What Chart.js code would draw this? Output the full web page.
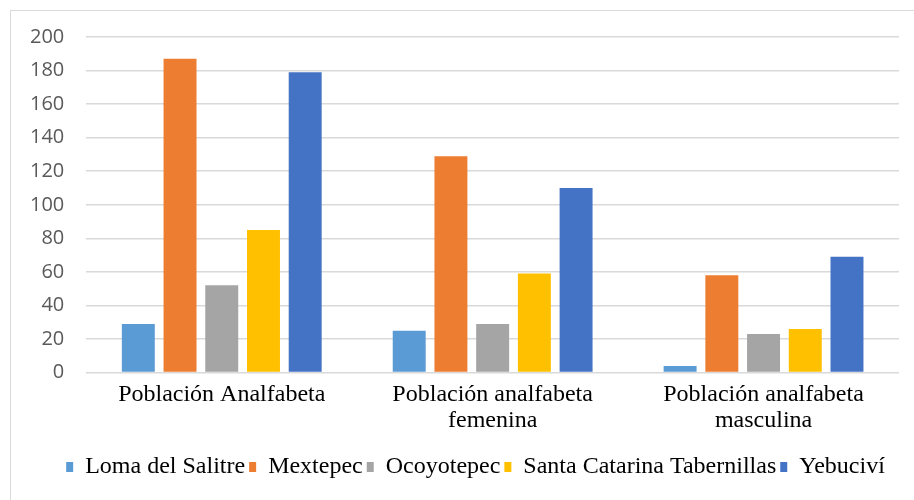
<!DOCTYPE html>
<html>
<head>
<meta charset="utf-8">
<script src="https://cdn.jsdelivr.net/npm/chart.js@4.4.0/dist/chart.umd.min.js"></script>
<style>
  body { margin: 0; background: #fff; overflow: hidden; }
  #wrap { position: relative; width: 914px; height: 500px; }
  #frame { position: absolute; left: 10px; top: 10px; width: 920px; height: 520px; border: 1px solid #d9d9d9; pointer-events: none; }
</style>
</head>
<body>
<div id="wrap">
  <canvas id="iChart" width="914" height="500"></canvas>
  <div id="frame"></div>
</div>
<script>
// categorias y series
var categorias = [
  'Población Analfabeta',
  ['Población analfabeta', 'femenina'],
  ['Población analfabeta', 'masculina']
];
var lomaDelSalitre = [29, 25, 4];
var mextepec = [187, 129, 58];
var ocoyotepec = [52, 29, 23];
var santaCatarina = [85, 59, 26];
var yebucivi = [179, 110, 69];
var yTicks = [0, 20, 40, 60, 80, 100, 120, 140, 160, 180, 200];

var serif = "'Liberation Serif', 'Times New Roman', serif";

// mover la leyenda un poco a la derecha, como en el original
var legendShift = {
  id: 'legendShift',
  afterLayout: function (chart) {
    chart.legend.left += 22;
    chart.legend.right += 22;
  }
};

var ctx = document.getElementById('iChart').getContext('2d');
var iChart = new Chart(ctx, {
  type: 'bar',
  data: {
    labels: categorias,
    datasets: [
      { label: 'Loma del Salitre', data: lomaDelSalitre, backgroundColor: '#5B9BD5' },
      { label: 'Mextepec', data: mextepec, backgroundColor: '#ED7D31' },
      { label: 'Ocoyotepec', data: ocoyotepec, backgroundColor: '#A5A5A5' },
      { label: 'Santa Catarina Tabernillas', data: santaCatarina, backgroundColor: '#FFC000' },
      { label: 'Yebuciví', data: yebucivi, backgroundColor: '#4472C4' }
    ]
  },
  plugins: [legendShift],
  options: {
    responsive: false,
    animation: false,
    categoryPercentage: 0.77,
    barPercentage: 0.79,
    layout: { padding: { left: 8, right: 15, top: 37, bottom: 11 } },
    plugins: {
      tooltip: { enabled: false },
      legend: {
        position: 'bottom',
        labels: {
          font: { family: serif, size: 24 },
          color: '#000',
          boxWidth: 7,
          boxHeight: 10,
          padding: 4
        }
      }
    },
    scales: {
      x: {
        grid: { display: false },
        border: { display: false },
        afterFit: function (axis) { axis.height += 16; },
        ticks: { font: { family: serif, size: 24, lineHeight: 1.05 }, color: '#000', padding: 2, maxRotation: 0 }
      },
      y: {
        min: 0,
        max: 200,
        afterBuildTicks: function (axis) { axis.ticks = yTicks.map(function (v) { return { value: v }; }); },
        grid: { color: '#d9d9d9', lineWidth: 1.5, drawTicks: false },
        border: { display: false },
        ticks: { font: { family: "'Open Sans', sans-serif", size: 20 }, color: '#595959', padding: 22 }
      }
    }
  }
});
</script>
</body>
</html>
